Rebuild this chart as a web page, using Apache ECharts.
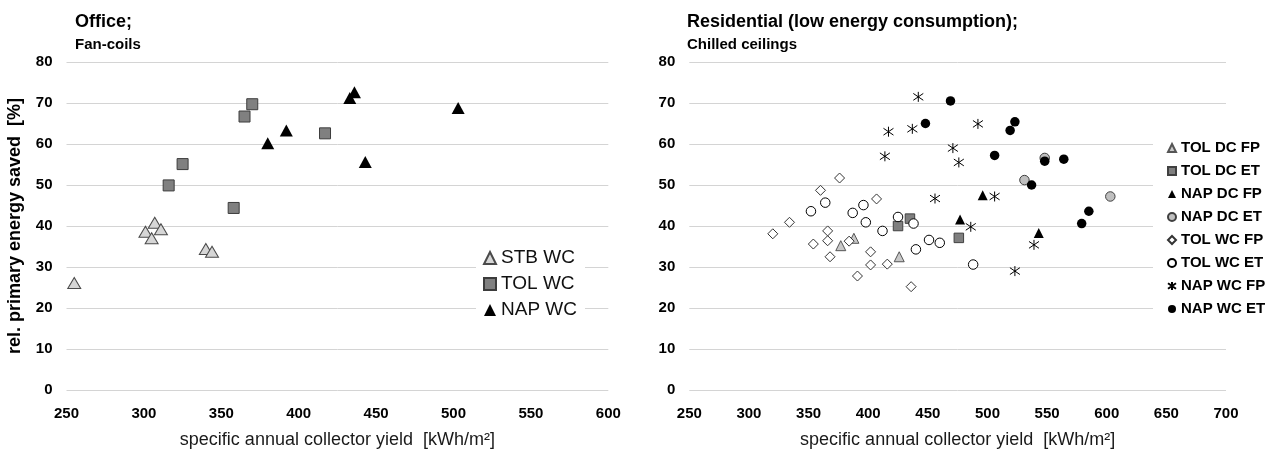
<!DOCTYPE html>
<html>
<head>
<meta charset="utf-8">
<script src="https://cdn.jsdelivr.net/npm/echarts@6/dist/echarts.min.js"></script>
<style>
html,body{margin:0;padding:0;background:#fff;}
#chart{width:1272px;height:454px;}
</style>
</head>
<body>
<div id="chart"></div>
<script>
// ---------- Office; Fan-coils (left panel) ----------
const officeStbWC = [[255,26.1],[301,38.6],[307,40.8],[305,37.0],[311,39.2],[340,34.4],[344,33.7]];
const officeTolWC = [[370,69.7],[365,66.7],[325,55.1],[316,49.9],[358,44.4],[417,62.6]];
const officeNapWC = [[380,60.2],[392,63.3],[436,72.6],[433,71.2],[503,68.8],[443,55.6]];

// ---------- Residential; Chilled ceilings (right panel) ----------
const resTolDcFp = [[377,35.2],[388,37.0],[426,32.5]];
const resTolDcEt = [[425,40.0],[435,41.8],[476,37.1]];
const resNapDcFp = [[496,47.5],[477,41.6],[543,38.3]];
const resNapDcEt = [[531,51.2],[548,56.6],[603,47.2]];
const resTolWcFp = [[376,51.7],[360,48.7],[334,40.9],[320,38.1],[366,38.8],[366,36.4],[354,35.6],[368,32.5],[384,36.3],[407,46.6],[402,33.7],[402,30.5],[391,27.8],[416,30.7],[436,25.2]];
const resTolWcEt = [[352,43.6],[364,45.7],[387,43.2],[396,45.1],[398,40.9],[412,38.8],[425,42.2],[438,40.6],[440,34.3],[451,36.6],[460,35.9],[488,30.6]];
const resNapWcFp = [[442,71.5],[417,63.0],[437,63.7],[492,64.9],[414,57.0],[471,59.0],[476,55.5],[456,46.7],[506,47.2],[486,39.8],[539,35.4],[523,29.0]];
const resNapWcEt = [[469,70.5],[448,65.0],[523,65.4],[519,63.3],[506,57.2],[548,55.8],[564,56.3],[537,50.0],[585,43.6],[579,40.6]];

// axis settings
const leftXRange = [250, 600];
const rightXRange = [250, 700];
const yRange = [0, 80];
const xStep = 50;
const yStep = 10;

const titles = ['Office;', 'Fan-coils', 'Residential (low energy consumption);', 'Chilled ceilings'];
const yAxisTitle = 'rel. primary energy saved  [%]';
const xAxisTitle = 'specific annual collector yield  [kWh/m²]';

const FONT = '"Liberation Sans", Arial, sans-serif';
const ASTER = 'path://M5 0L5 10M0 1.6L10 8.4M0 8.4L10 1.6';

const chart = echarts.init(document.getElementById('chart'), null, {renderer: 'canvas'});

function xAxisCfg(range, gridIndex) {
  return {
    type: 'value', gridIndex: gridIndex, min: range[0], max: range[1], interval: xStep,
    axisLine: {show: false}, axisTick: {show: false}, splitLine: {show: false},
    axisLabel: {fontFamily: FONT, fontSize: 15, fontWeight: 'bold', color: '#000', margin: 16},
    name: xAxisTitle, nameLocation: 'middle', nameGap: 41,
    nameTextStyle: {fontFamily: FONT, fontSize: 18, color: '#1a1a1a'}
  };
}
function yAxisCfg(gridIndex, withName) {
  const c = {
    type: 'value', gridIndex: gridIndex, min: yRange[0], max: yRange[1], interval: yStep,
    axisLine: {show: false}, axisTick: {show: false},
    splitLine: {show: true, lineStyle: {color: '#d4d4d4', width: 1}},
    axisLabel: {fontFamily: FONT, fontSize: 15, fontWeight: 'bold', color: '#000', margin: 14}
  };
  if (withName) {
    c.name = yAxisTitle; c.nameLocation = 'middle'; c.nameGap = 42;
    c.nameTextStyle = {fontFamily: FONT, fontSize: 18, fontWeight: 'bold', color: '#000'};
  }
  return c;
}

function sc(name, data, xi, symbol, size, fill, border, bw) {
  return {
    type: 'scatter', name: name, data: data, xAxisIndex: xi, yAxisIndex: xi,
    symbol: symbol, symbolSize: size,
    itemStyle: {color: fill, borderColor: border, borderWidth: bw, opacity: 1},
    emphasis: {disabled: true}
  };
}

chart.setOption({
  animation: false,
  backgroundColor: '#fff',
  title: [
    {text: titles[0], left: 75, top: 13, padding: 0, textStyle: {fontFamily: FONT, fontSize: 18, fontWeight: 'bold', color: '#000'}},
    {text: titles[1], left: 75, top: 37, padding: 0, textStyle: {fontFamily: FONT, fontSize: 15, fontWeight: 'bold', color: '#000'}},
    {text: titles[2], left: 687, top: 13, padding: 0, textStyle: {fontFamily: FONT, fontSize: 18, fontWeight: 'bold', color: '#000'}},
    {text: titles[3], left: 687, top: 37, padding: 0, textStyle: {fontFamily: FONT, fontSize: 15, fontWeight: 'bold', color: '#000'}}
  ],
  grid: [
    {left: 66.5, top: 62, width: 541.8, height: 328.7},
    {left: 689.3, top: 62, width: 536.7, height: 328.7}
  ],
  xAxis: [xAxisCfg(leftXRange, 0), xAxisCfg(rightXRange, 1)],
  yAxis: [yAxisCfg(0, true), yAxisCfg(1, false)],
  legend: [
    {
      data: ['STB WC', 'TOL WC', 'NAP WC'], orient: 'vertical', left: 476, top: 246,
      backgroundColor: '#fff', padding: [2, 8, 4, 7], itemWidth: 12, itemHeight: 12, itemGap: 6,
      textStyle: {fontFamily: FONT, fontSize: 19, color: '#111', lineHeight: 20},
      selectedMode: false
    },
    {
      data: ['TOL DC FP', 'TOL DC ET', 'NAP DC FP', 'NAP DC ET', 'TOL WC FP', 'TOL WC ET', 'NAP WC FP', 'NAP WC ET'],
      orient: 'vertical', left: 1153, top: 136, backgroundColor: '#fff', padding: [4, 6, 4, 14],
      itemWidth: 8, itemHeight: 8, itemGap: 7,
      textStyle: {fontFamily: FONT, fontSize: 15, fontWeight: 'bold', color: '#000', lineHeight: 16},
      selectedMode: false
    }
  ],
  series: [
    sc('STB WC', officeStbWC, 0, 'triangle', [13, 11], '#d6d6d6', '#4a4a4a', 1),
    sc('TOL WC', officeTolWC, 0, 'rect', 11, '#808080', '#3c3c3c', 1),
    sc('NAP WC', officeNapWC, 0, 'triangle', [13, 12], '#000', '#000', 0),

    sc('TOL DC FP', resTolDcFp, 1, 'triangle', [10, 10], '#c8c8c8', '#555', 1),
    sc('TOL DC ET', resTolDcEt, 1, 'rect', 9.5, '#7f7f7f', '#404040', 1),
    sc('NAP DC FP', resNapDcFp, 1, 'triangle', [10, 10], '#000', '#000', 0),
    sc('NAP DC ET', resNapDcEt, 1, 'circle', 9.5, '#bfbfbf', '#404040', 1),
    sc('TOL WC FP', resTolWcFp, 1, 'diamond', 10, '#fff', '#333', 1),
    sc('TOL WC ET', resTolWcEt, 1, 'circle', 9.5, '#fff', '#000', 1),
    sc('NAP WC FP', resNapWcFp, 1, ASTER, 10, 'rgba(0,0,0,0)', '#000', 1),
    sc('NAP WC ET', resNapWcEt, 1, 'circle', 9.5, '#000', '#000', 0)
  ]
});
</script>
</body>
</html>
